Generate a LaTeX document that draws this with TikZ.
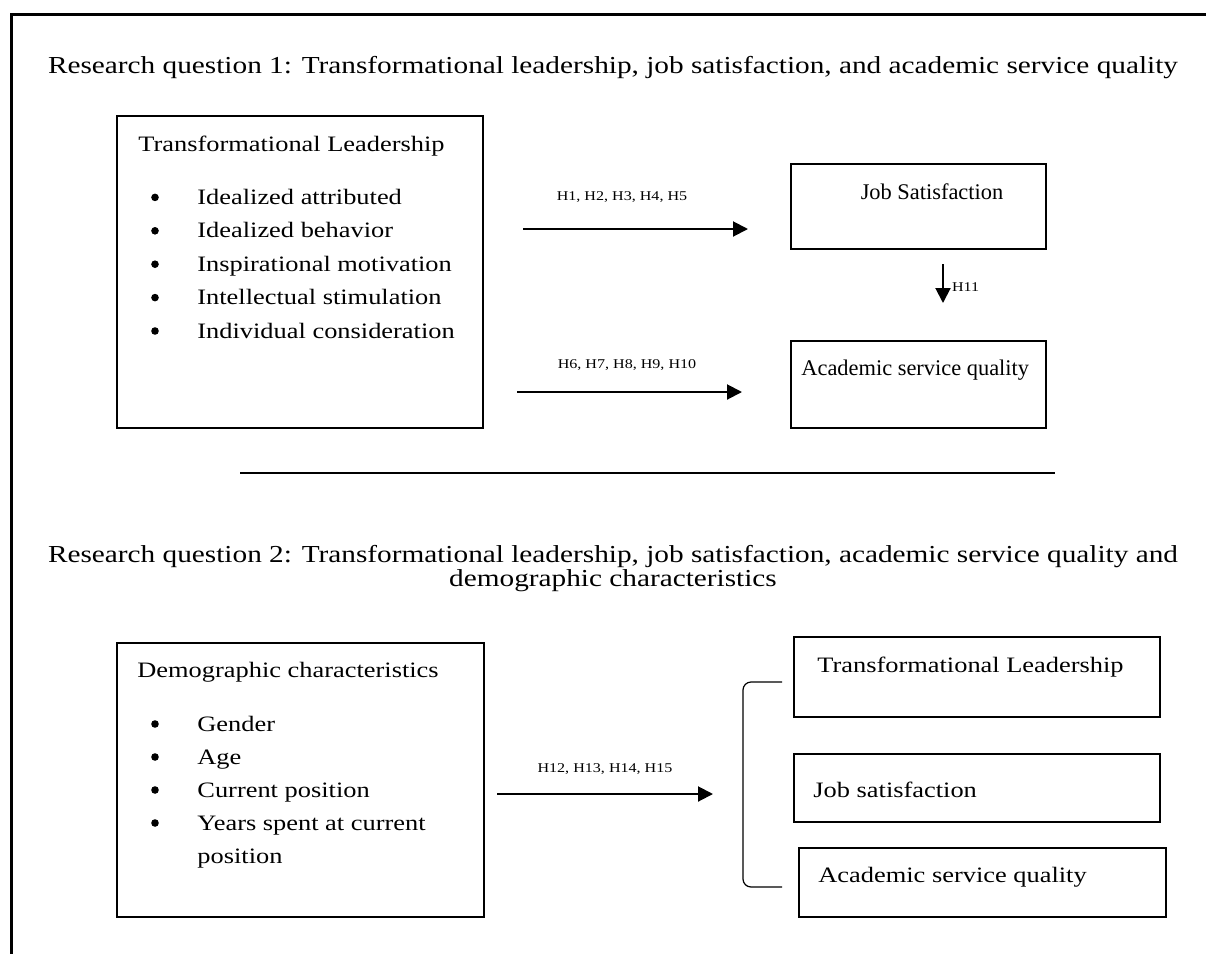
\documentclass[tikz,border=0pt]{standalone}
\usepackage{fontspec}
\setmainfont{Liberation Serif}[FakeStretch=1.2]
\newfontfamily\plainserif{Liberation Serif}
\usetikzlibrary{arrows.meta}
\usetikzlibrary{fit}

\tikzset{
  box/.style={draw,line width=0.75pt,inner sep=0pt},
  head/.style={font=\fontsize{12.2}{14}\selectfont,anchor=base,inner sep=0pt},
  txt/.style={font=\fontsize{11}{13}\selectfont,anchor=base west,inner sep=0pt},
  small/.style={font=\plainserif\fontsize{11.2}{13}\selectfont,anchor=base west,inner sep=0pt},
  dot/.style={circle,fill,inner sep=0pt,minimum size=3.8pt},
  hyp/.style={font=\fontsize{6.7}{8}\selectfont,anchor=base,inner sep=0pt},
  link/.style={line width=1pt,-{Triangle[length=7.5pt,width=7.5pt]}}
}

\begin{document}
\begin{tikzpicture}[x=0.5pt,y=-0.5pt]
\useasboundingbox (0,0) rectangle (1206,954);

% frame
\draw[line width=1.5pt] (11,954)--(11,14)--(1206,14);

% research question 1
\node[head] (rq1) at (613,73) {Research question 1: Transformational leadership, job satisfaction, and academic service quality};

\node[box,fit={(117,116) (483,428)}] (lead) {};
\node[txt] (leadT) at (138,151) {Transformational Leadership};
\foreach \i/\t in {1/Idealized attributed,2/Idealized behavior,3/Inspirational motivation,4/Intellectual stimulation,5/Individual consideration}{
  \node[dot] (b\i) at (155,164+33.4*\i) {};
  \node[txt] (d\i) at (197,171+33.4*\i) {\t};
}

\node[box,fit={(791,164) (1046,249)}] (js) {};
\node[small,anchor=base] (jsT) at (932,199) {Job Satisfaction};
\node[box,fit={(791,341) (1046,428)}] (asq) {};
\node[small] (asqT) at (801,375) {Academic service quality};

\coordinate (a1) at (523,229);
\coordinate (e1) at (748,229);
\draw[link] (a1)--(e1);
\node[hyp] (h1) at (622,200) {H1, H2, H3, H4, H5};
\coordinate (a2) at (517,392);
\coordinate (e2) at (742,392);
\draw[link] (a2)--(e2);
\node[hyp] (h2) at (627,368) {H6, H7, H8, H9, H10};
\coordinate (a3) at (943,264);
\coordinate (e3) at (943,303);
\draw[link] (a3)--(e3) node[hyp,anchor=base west,midway,xshift=4pt,yshift=-4pt] (h3) {H11};

% separator
\coordinate (s1) at (240,473);
\coordinate (s2) at (1055,473);
\draw[line width=1pt] (s1)--(s2);

% research question 2
\node[head] (rq2a) at (613,562) {Research question 2: Transformational leadership, job satisfaction, academic service quality and};
\node[head] (rq2b) at (613,586) {demographic characteristics};

\node[box,fit={(117,643) (484,917)}] (demo) {};
\node[txt] (demoT) at (137,677) {Demographic characteristics};
\foreach \i/\t in {1/Gender,2/Age,3/Current position,4/Years spent at current}{
  \node[dot] (g\i) at (155,691+33*\i) {};
  \node[txt] (c\i) at (197,698+33*\i) {\t};
}
\node[txt] (c5) at (197,863) {position};

\node[box,fit={(794,637) (1160,717)}] (lead2) {};
\node[txt] (lead2T) at (817,672) {Transformational Leadership};
\node[box,fit={(794,754) (1160,822)}] (js2) {};
\node[txt] (js2T) at (813,797) {Job satisfaction};
\node[box,fit={(799,848) (1166,917)}] (asq2) {};
\node[txt] (asq2T) at (818,882) {Academic service quality};

\coordinate (a4) at (497,794);
\coordinate (e4) at (713,794);
\draw[link] (a4)--(e4) node[hyp,midway,yshift=11pt] (h4) {H12, H13, H14, H15};

% bracket
\coordinate (k1) at (782,682);
\coordinate (k2) at (782,887);
\draw[line width=0.6pt] (k1) -- (751,682) to[out=180,in=90] (743,690) -- (743,879) to[out=-90,in=180] (751,887) -- (k2);

\end{tikzpicture}
\end{document}
